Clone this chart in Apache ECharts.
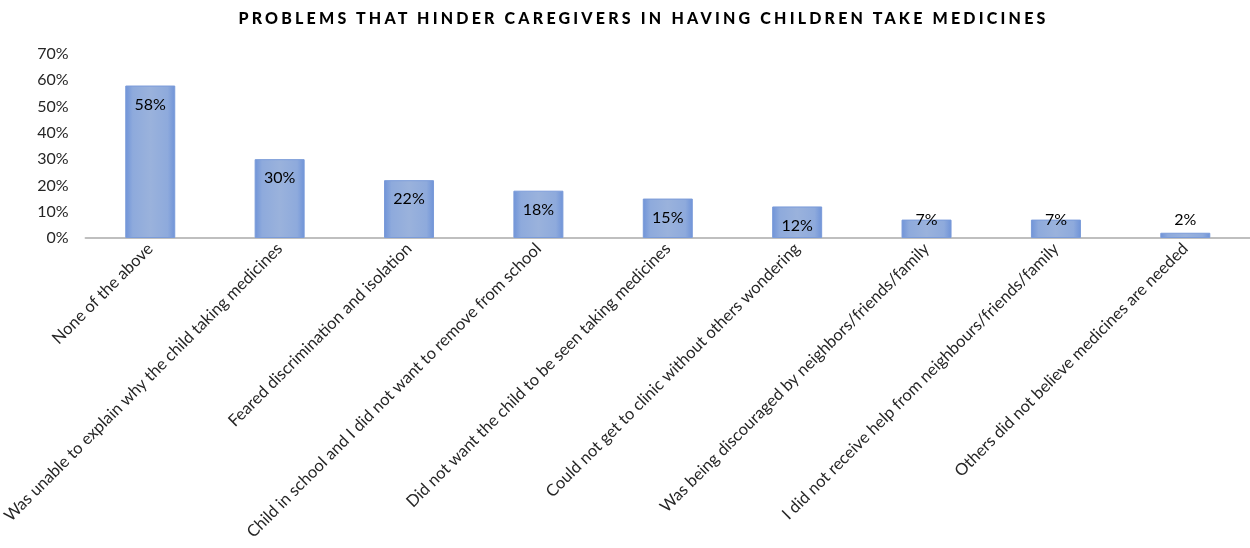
<!DOCTYPE html>
<html>
<head>
<meta charset="utf-8">
<script src="https://cdn.jsdelivr.net/npm/echarts@6/dist/echarts.min.js"></script>
<style>
html,body{margin:0;padding:0;background:#fff;}
#wrap{position:relative;width:1250px;height:548px;}
#chart{position:absolute;left:0;top:0;width:1250px;height:548px;}
#title{position:absolute;left:0;top:8px;width:1287px;text-align:center;font-family:Lato,"Open Sans",sans-serif;font-weight:900;font-size:16px;letter-spacing:3.2px;color:#000;z-index:2;}
</style>
</head>
<body>
<div id="wrap">
<div id="chart"></div>
<div id="title">PROBLEMS THAT HINDER CAREGIVERS IN HAVING CHILDREN TAKE MEDICINES</div>
</div>
<script>
var categories = [
  "None of the above",
  "Was unable to explain why the child taking medicines",
  "Feared discrimination and isolation",
  "Child in school and I did not want to remove from school",
  "Did not want the child to be seen taking medicines",
  "Could not get to clinic without others wondering",
  "Was being discouraged by neighbors/friends/family",
  "I did not receive help from neighbours/friends/family",
  "Others did not believe medicines are needed"
];
var values = [58, 30, 22, 18, 15, 12, 7, 7, 2];
var yTicks = { min: 0, max: 70, interval: 10 };

var chart = echarts.init(document.getElementById('chart'));
var barData = values.map(function (v) {
  var item = { value: v };
  if (v < 5) {
    item.label = { position: 'top', distance: 5 };
  } else if (v < 10) {
    item.label = { position: 'top', distance: -8 };
  }
  return item;
});
chart.setOption({
  animation: false,
  grid: { left: 85, right: -6, top: 54, bottom: 310, containLabel: false },
  xAxis: {
    type: 'category',
    data: categories,
    axisLine: { lineStyle: { color: '#bfbfbf', width: 2 } },
    axisTick: { show: false },
    axisLabel: {
      rotate: 45, interval: 0, margin: 8,
      fontFamily: 'Lato, "Open Sans", sans-serif', fontSize: 16.5, color: '#262626'
    }
  },
  yAxis: {
    type: 'value',
    min: yTicks.min, max: yTicks.max, interval: yTicks.interval,
    splitLine: { show: false },
    axisLine: { show: false },
    axisTick: { show: false },
    axisLabel: {
      formatter: '{value}%', margin: 17,
      fontFamily: 'Lato, "Open Sans", sans-serif', fontSize: 16, color: '#262626'
    }
  },
  series: [{
    type: 'bar',
    data: barData,
    barWidth: 50,
    itemStyle: {
      color: new echarts.graphic.LinearGradient(0, 0, 1, 0, [
        { offset: 0, color: '#6f93d8' },
        { offset: 0.15, color: '#8eaadc' },
        { offset: 0.5, color: '#9ab2dc' },
        { offset: 0.85, color: '#8eaadc' },
        { offset: 1, color: '#6f93d8' }
      ]),
      borderColor: '#7a9bd9',
      borderWidth: 1
    },
    label: {
      show: true,
      position: 'insideTop',
      distance: 11,
      formatter: '{c}%',
      fontFamily: 'Lato, "Open Sans", sans-serif',
      fontSize: 16,
      color: '#000'
    }
  }]
});
</script>
</body>
</html>
